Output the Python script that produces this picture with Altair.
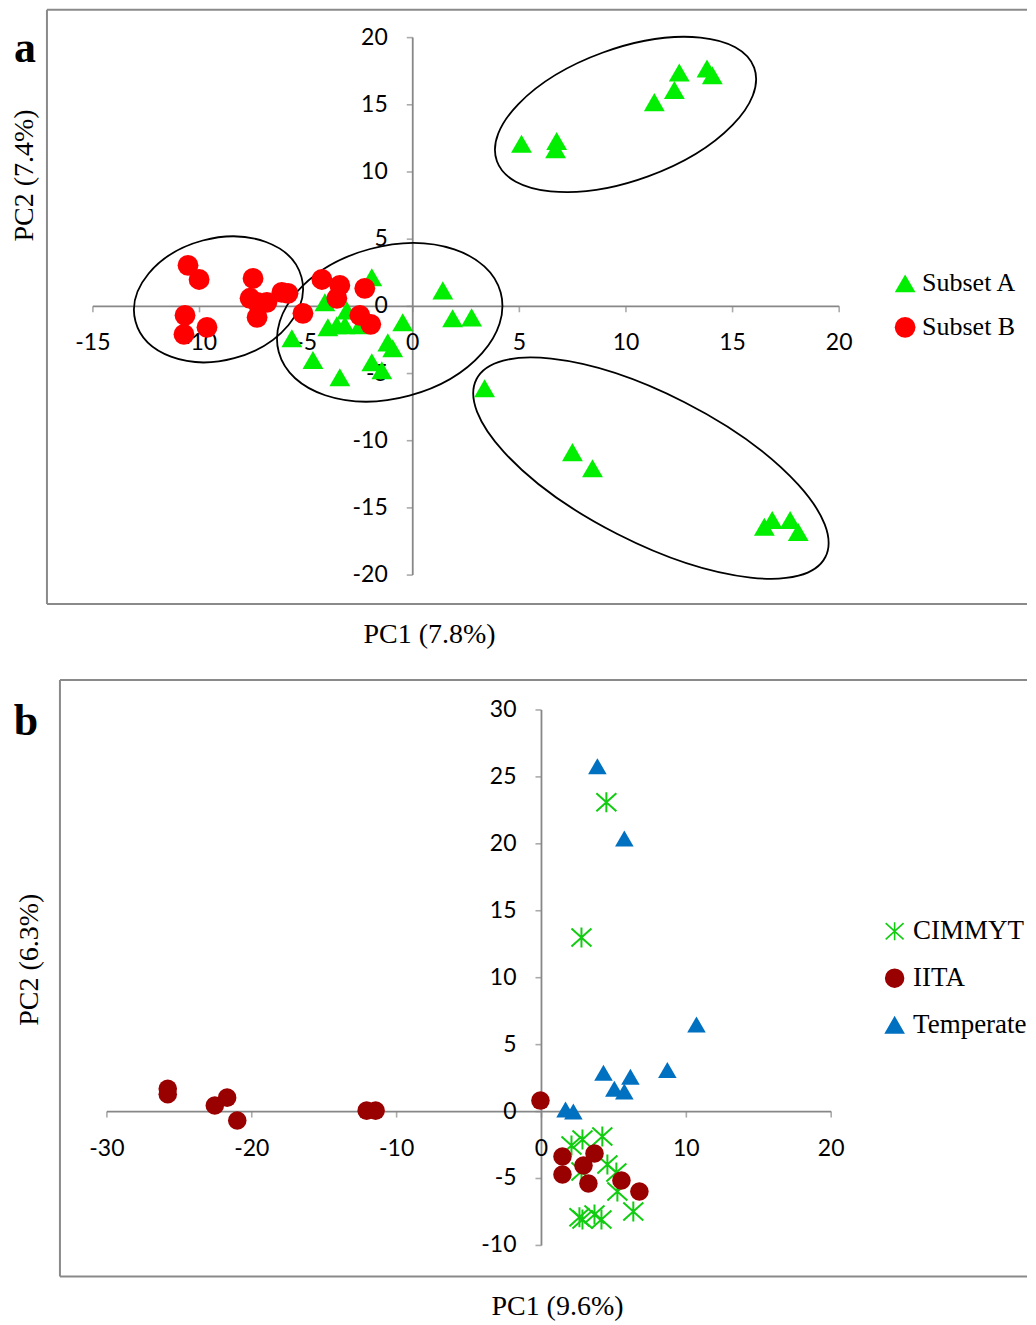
import altair as alt
import pandas as pd

# ---------------- Panel a data ----------------
subsetA_x = [5.1, 6.75, 6.7, 11.33, 12.27, 12.5, 13.8, 14.05,
             3.37, 7.49, 8.43, 16.49, 16.86, 17.7, 18.08,
             -1.92, -4.12, 1.41, 1.87, 2.76, -5.67, -3.98, -3.56, -3.09, -3.18, -2.48,
             -0.47, -1.17, -0.94, -4.68, -1.92, -1.45, -3.42]
subsetA_y = [12.1, 12.3, 11.7, 15.2, 16.1, 17.4, 17.7, 17.2,
             -6.1, -10.85, -12.05, -16.4, -15.9, -15.9, -16.8,
             2.16, 0.3, 1.19, -0.89, -0.82, -2.38, -1.56, -1.41, -0.3, -1.41, -1.41,
             -1.19, -2.68, -3.12, -4.0, -4.16, -4.76, -5.28]
subsetB_x = [-10.54, -10.02, -7.49, -10.68, -10.73, -9.65, -7.63, -7.3, -6.84, -7.3,
             -6.14, -5.85, -5.15, -4.26, -3.42, -3.56, -2.25, -2.48, -1.97]
subsetB_y = [3.05, 2.0, 2.08, -0.67, -2.08, -1.56, 0.6, 0.3, 0.3, -0.82,
             1.04, 0.97, -0.52, 2.0, 1.56, 0.6, 1.34, -0.67, -1.34]
groups_a = ["Subset A", "Subset B"]
ticks_ax = [-15, -10, -5, 0, 5, 10, 15, 20]
ticks_ay = [-20, -15, -10, -5, 0, 5, 10, 15, 20]
# ellipse annotations: centre (data units), semi-axes (px), rotation (deg)
ell_a_cx = [-9.11, -1.08, 9.98, 11.17]
ell_a_cy = [0.52, -1.19, 14.28, -12.04]
ell_a_a = [86, 115, 137, 196]
ell_a_b = [61, 76, 66, 74]
ell_a_ang = [345, 345, 340, 27]

# ---------------- Panel b data ----------------
cimmyt_x = [4.48, 2.76, 2.07, 2.83, 4.2, 2.76, 4.55, 5.17, 5.24, 6.34, 2.62, 2.83, 3.66, 4.14]
cimmyt_y = [23.1, 13.0, -2.54, -2.09, -1.87, -4.48, -3.96, -4.55, -5.97, -7.46, -7.9, -8.06, -7.69, -8.06]
iita_x = [-25.8, -25.8, -21.7, -22.55, -21.0, -12.07, -11.45, -0.07, 1.45, 1.45, 3.66, 2.9, 3.24, 5.52, 6.76]
iita_y = [1.7, 1.3, 1.04, 0.45, -0.67, 0.07, 0.07, 0.82, -3.36, -4.7, -3.13, -4.03, -5.37, -5.15, -5.97]
temp_x = [3.86, 5.72, 10.7, 4.28, 6.14, 8.69, 5.03, 5.72, 1.66, 2.2]
temp_y = [25.8, 20.4, 6.5, 2.9, 2.6, 3.1, 1.7, 1.5, 0.15, 0.0]
groups_b = ["CIMMYT", "IITA", "Temperate"]
ticks_bx = [-30, -20, -10, 0, 10, 20]
ticks_by = [-10, -5, 0, 5, 10, 15, 20, 25, 30]

AXIS_GRAY = "#878787"
LABEL_FONT = "Lato"
SERIF = "Liberation Serif"
W = 1020
ASTERISK = "M0,-1L0,1M-1,-0.9L1,0.9M1,-0.9L-1,0.9"


def axes_layers(X, Y, xt, yt, xmin, xmax, ymin, ymax):
    xline = alt.Chart(pd.DataFrame({"x": [xmin], "x2": [xmax], "y": [0]})).mark_rule(
        color=AXIS_GRAY, strokeWidth=1.8).encode(x=X, x2="x2:Q", y=Y)
    yline = alt.Chart(pd.DataFrame({"x": [0], "y": [ymin], "y2": [ymax]})).mark_rule(
        color=AXIS_GRAY, strokeWidth=1.8).encode(x=X, y=Y, y2="y2:Q")
    dfx = pd.DataFrame({"x": xt, "y": [0] * len(xt), "lab": [str(v) for v in xt]})
    dfy = pd.DataFrame({"x": [0] * len(yt), "y": yt, "lab": [str(v) for v in yt]})
    xticks = alt.Chart(dfx).mark_tick(orient="vertical", size=6, thickness=1.6,
                                      color=AXIS_GRAY, yOffset=3).encode(x=X, y=Y)
    yticks = alt.Chart(dfy).mark_tick(orient="horizontal", size=6, thickness=1.6,
                                      color=AXIS_GRAY, xOffset=-3).encode(x=X, y=Y)
    xlabs = alt.Chart(dfx).mark_text(font=LABEL_FONT, fontSize=23, color="black",
                                     align="center", baseline="middle", dy=37).encode(
        x=X, y=Y, text="lab:N")
    ylabs = alt.Chart(dfy).mark_text(font=LABEL_FONT, fontSize=23, color="black",
                                     align="right", baseline="middle", dx=-25).encode(
        x=X, y=Y, text="lab:N")
    return [xline, yline, xticks, yticks, xlabs, ylabs]


def frame_layers(left, top, bottom):
    base = pd.DataFrame({"k": [0]})
    lft = alt.Chart(base).mark_rule(color="#8a8a8a", strokeWidth=2).encode(
        x=alt.value(left), y=alt.value(top), y2=alt.value(bottom))
    tp = alt.Chart(base).mark_rule(color="#8a8a8a", strokeWidth=2).encode(
        x=alt.value(left), x2=alt.value(W), y=alt.value(top))
    bt = alt.Chart(base).mark_rule(color="#8a8a8a", strokeWidth=2).encode(
        x=alt.value(left), x2=alt.value(W), y=alt.value(bottom))
    return [lft, tp, bt]


def text_layer(txt, x, y, size, angle=0, bold=False):
    base = pd.DataFrame({"k": [0]})
    return alt.Chart(base).mark_text(font=SERIF, fontSize=size, color="black",
                                     align="center", baseline="middle", angle=angle,
                                     fontWeight="bold" if bold else "normal").encode(
        x=alt.value(x), y=alt.value(y), text=alt.value(txt))


# ---------------- Panel a ----------------
Xa = alt.X("x:Q", scale=alt.Scale(domain=[-15, 20], range=[85, 832], nice=False, zero=False), axis=None)
Ya = alt.Y("y:Q", scale=alt.Scale(domain=[-20, 20], range=[567, 29], nice=False, zero=False), axis=None)

ell_df = pd.DataFrame({
    "x": ell_a_cx, "y": ell_a_cy,
    "path": [f"M -1 0 A 1 {b / a:.4f} 0 1 1 1 0 A 1 {b / a:.4f} 0 1 1 -1 0 Z" for a, b in zip(ell_a_a, ell_a_b)],
    "sz": [(2 * a) ** 2 for a in ell_a_a],
    "ang": ell_a_ang,
})
ellipses = alt.Chart(ell_df).mark_point(filled=False, color="black", strokeWidth=1.8, opacity=1).encode(
    x=Xa, y=Ya,
    shape=alt.Shape("path:N", scale=None),
    size=alt.Size("sz:Q", scale=None),
    angle=alt.Angle("ang:Q", scale=None),
)

pts_a = pd.DataFrame({
    "x": subsetA_x + subsetB_x,
    "y": subsetA_y + subsetB_y,
    "grp_a": [groups_a[0]] * len(subsetA_x) + [groups_a[1]] * len(subsetB_x),
})
legend_a = alt.Legend(title=None, orient="none", legendX=885, legendY=262, labelFont=SERIF,
                      labelFontSize=26, labelColor="black", symbolSize=430, rowPadding=18,
                      labelOffset=4, symbolStrokeWidth=0, padding=0)
points_a = alt.Chart(pts_a).mark_point(filled=True, opacity=1, size=435).encode(
    x=Xa, y=Ya,
    shape=alt.Shape("grp_a:N", scale=alt.Scale(domain=groups_a, range=["triangle-up", "circle"]), legend=legend_a),
    color=alt.Color("grp_a:N", scale=alt.Scale(domain=groups_a, range=["#00ee00", "#ff0000"]), legend=legend_a),
)

panel_a = alt.layer(
    *frame_layers(39, 1, 596),
    *axes_layers(Xa, Ya, ticks_ax, ticks_ay, -15, 20, -20, 20),
    ellipses, points_a,
    text_layer("PC1 (7.8%)", 422, 627, 28),
    text_layer("PC2 (7.4%)", 17, 167, 28, angle=270),
    text_layer("a", 17, 40, 44, bold=True),
).properties(width=W, height=660)

# ---------------- Panel b ----------------
Xb = alt.X("x:Q", scale=alt.Scale(domain=[-30, 20], range=[99, 824], nice=False, zero=False), axis=None)
Yb = alt.Y("y:Q", scale=alt.Scale(domain=[-10, 30], range=[578, 42], nice=False, zero=False), axis=None)

pts_b = pd.DataFrame({
    "x": cimmyt_x + iita_x + temp_x,
    "y": cimmyt_y + iita_y + temp_y,
    "grp_b": [groups_b[0]] * len(cimmyt_x) + [groups_b[1]] * len(iita_x) + [groups_b[2]] * len(temp_x),
})
colors_b = ["#11cc11", "#990000", "#0070c0"]
legend_b = alt.Legend(title=None, orient="none", legendX=874, legendY=250, labelFont=SERIF,
                      labelFontSize=27, labelColor="black", symbolSize=320, rowPadding=19,
                      labelOffset=5, symbolStrokeWidth=1.6, padding=0)
points_b = alt.Chart(pts_b).mark_point(filled=True, opacity=1).encode(
    x=Xb, y=Yb,
    shape=alt.Shape("grp_b:N", scale=alt.Scale(domain=groups_b, range=[ASTERISK, "circle", "triangle-up"]), legend=legend_b),
    fill=alt.Fill("grp_b:N", scale=alt.Scale(domain=groups_b, range=colors_b), legend=legend_b),
    stroke=alt.Stroke("grp_b:N", scale=alt.Scale(domain=groups_b, range=colors_b), legend=legend_b),
    strokeWidth=alt.condition("datum.grp_b == 'CIMMYT'", alt.value(2), alt.value(0)),
    size=alt.condition("datum.grp_b == 'CIMMYT'", alt.value(400), alt.value(345)),
)

panel_b = alt.layer(
    *frame_layers(52, 12, 609),
    *axes_layers(Xb, Yb, ticks_bx, ticks_by, -30, 20, -10, 30),
    points_b,
    text_layer("PC1 (9.6%)", 550, 640, 28),
    text_layer("PC2 (6.3%)", 22, 292, 28, angle=270),
    text_layer("b", 18, 54, 44, bold=True),
).properties(width=W, height=655)

chart = (alt.vconcat(panel_a, panel_b, spacing=0)
         .resolve_scale(shape="independent", color="independent", fill="independent", stroke="independent")
         .resolve_legend(shape="independent", color="independent", fill="independent", stroke="independent")
         .properties(padding=0)
         .configure_view(stroke=None))
chart.save("out.html", embed_options={"renderer": "svg", "actions": False})
